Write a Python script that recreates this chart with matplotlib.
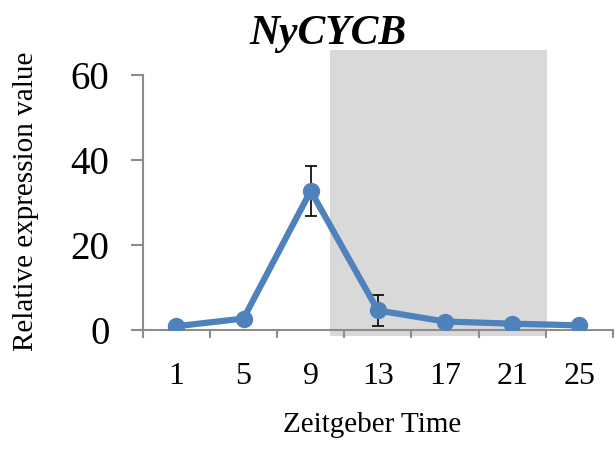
import numpy as np
import matplotlib
matplotlib.use("Agg")
import matplotlib.pyplot as plt
import matplotlib.patches as mpatches

# data
times = ["1", "5", "9", "13", "17", "21", "25"]
expression = [1.0, 2.8, 32.8, 4.7, 2.1, 1.6, 1.2]
errors = [0, 0, 5.8, 3.7, 0, 0, 0]
# dark period (in category index units)
dark_start = 2.29
dark_end = 5.52

plt.rcParams['font.family'] = ['Liberation Serif', 'DejaVu Serif']

fig = plt.figure(figsize=(6.16, 4.5), dpi=100)
ax = fig.add_axes([0.2317, 0.2656, 0.7635, 0.5677])

x = np.arange(len(times))

# grey shading for the dark phase, drawn past the axes limits
rect = mpatches.Rectangle((dark_start, -1.2), dark_end - dark_start, 67.1,
                          facecolor='#d9d9d9', edgecolor='none', zorder=0,
                          clip_on=False)
ax.add_patch(rect)

ax.errorbar(x, expression, yerr=[e if e > 0 else np.nan for e in errors],
            fmt='none', ecolor='black', elinewidth=1.2, capsize=4.5,
            capthick=1.2, zorder=2)
ax.plot(x, expression, color='#4f81bd', lw=4.5, marker='o', ms=11.5,
        zorder=3)

ax.set_xlim(-0.5, len(times) - 0.5)
ax.set_ylim(0, 60)

for side in ['top', 'right']:
    ax.spines[side].set_visible(False)
for side in ['left', 'bottom']:
    ax.spines[side].set_color('#8c8c8c')
    ax.spines[side].set_linewidth(1.5)
ax.patch.set_alpha(0)

ax.set_yticks([0, 20, 40, 60])
ax.tick_params(axis='y', length=9, width=1.5, color='#8c8c8c',
               labelsize=28, pad=15)

# ticks at category boundaries, labels at category centres
ax.set_xticks(np.arange(-0.5, len(times), 1.0))
ax.set_xticklabels([])
ax.set_xticks(x, minor=True)
ax.set_xticklabels(times, minor=True)
ax.tick_params(axis='x', which='major', length=6, width=1.5, color='#8c8c8c')
ax.tick_params(axis='x', which='minor', length=0, labelsize=23, pad=23)

fig.text(0.532, 0.925, 'NyCYCB', fontsize=30, fontweight='bold',
         fontstyle='italic', ha='center', va='center')
fig.text(0.604, 0.055, 'Zeitgeber Time', fontsize=21, ha='center',
         va='center')
fig.text(0.042, 0.552, 'Relative expression value', fontsize=21,
         rotation=90, ha='center', va='center')

fig.savefig('out.png', dpi=100)
